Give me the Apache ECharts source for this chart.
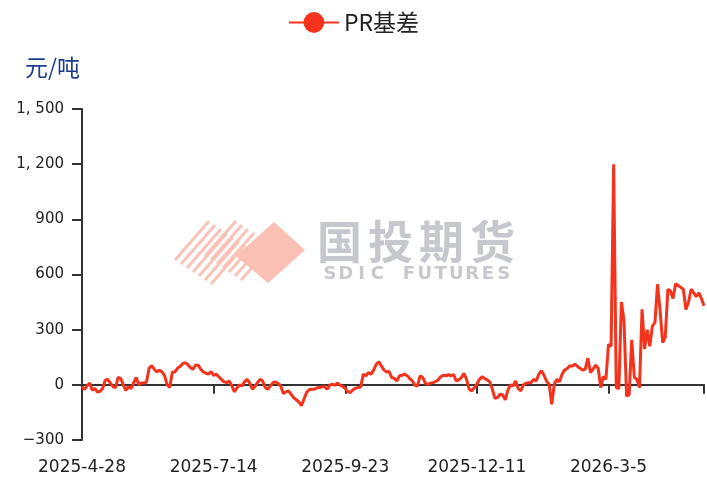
<!DOCTYPE html>
<html>
<head>
<meta charset="utf-8">
<script src="https://cdn.jsdelivr.net/npm/echarts@6/dist/echarts.min.js"></script>
<style>
html,body{margin:0;padding:0;background:#fff;}
#c{width:707px;height:479px;}
</style>
</head>
<body>
<div id="c"></div>
<script>
const dates = [
"2025-4-28","2025-4-29","2025-4-30",
"2025-5-6","2025-5-7","2025-5-8","2025-5-9","2025-5-12","2025-5-13","2025-5-14","2025-5-15","2025-5-16","2025-5-19","2025-5-20","2025-5-21","2025-5-22","2025-5-23","2025-5-26","2025-5-27","2025-5-28","2025-5-29","2025-5-30",
"2025-6-3","2025-6-4","2025-6-5","2025-6-6","2025-6-9","2025-6-10","2025-6-11","2025-6-12","2025-6-13","2025-6-16","2025-6-17","2025-6-18","2025-6-19","2025-6-20","2025-6-23","2025-6-24","2025-6-25","2025-6-26","2025-6-27","2025-6-30",
"2025-7-1","2025-7-2","2025-7-3","2025-7-4","2025-7-7","2025-7-8","2025-7-9","2025-7-10","2025-7-11","2025-7-14","2025-7-15","2025-7-16","2025-7-17","2025-7-18","2025-7-21","2025-7-22","2025-7-23","2025-7-24","2025-7-25","2025-7-28","2025-7-29","2025-7-30","2025-7-31",
"2025-8-1","2025-8-4","2025-8-5","2025-8-6","2025-8-7","2025-8-8","2025-8-11","2025-8-12","2025-8-13","2025-8-14","2025-8-15","2025-8-18","2025-8-19","2025-8-20","2025-8-21","2025-8-22","2025-8-25","2025-8-26","2025-8-27","2025-8-28","2025-8-29",
"2025-9-1","2025-9-2","2025-9-3","2025-9-4","2025-9-5","2025-9-8","2025-9-9","2025-9-10","2025-9-11","2025-9-12","2025-9-15","2025-9-16","2025-9-17","2025-9-18","2025-9-19","2025-9-22","2025-9-23","2025-9-24","2025-9-25","2025-9-26","2025-9-29","2025-9-30",
"2025-10-9","2025-10-10","2025-10-13","2025-10-14","2025-10-15","2025-10-16","2025-10-17","2025-10-20","2025-10-21","2025-10-22","2025-10-23","2025-10-24","2025-10-27","2025-10-28","2025-10-29","2025-10-30","2025-10-31",
"2025-11-3","2025-11-4","2025-11-5","2025-11-6","2025-11-7","2025-11-10","2025-11-11","2025-11-12","2025-11-13","2025-11-14","2025-11-17","2025-11-18","2025-11-19","2025-11-20","2025-11-21","2025-11-24","2025-11-25","2025-11-26","2025-11-27","2025-11-28",
"2025-12-1","2025-12-2","2025-12-3","2025-12-4","2025-12-5","2025-12-8","2025-12-9","2025-12-10","2025-12-11","2025-12-12","2025-12-15","2025-12-16","2025-12-17","2025-12-18","2025-12-19","2025-12-22","2025-12-23","2025-12-24","2025-12-25","2025-12-26","2025-12-29","2025-12-30","2025-12-31",
"2026-1-5","2026-1-6","2026-1-7","2026-1-8","2026-1-9","2026-1-12","2026-1-13","2026-1-14","2026-1-15","2026-1-16","2026-1-19","2026-1-20","2026-1-21","2026-1-22","2026-1-23","2026-1-26","2026-1-27","2026-1-28","2026-1-29","2026-1-30",
"2026-2-2","2026-2-3","2026-2-4","2026-2-5","2026-2-6","2026-2-9","2026-2-10","2026-2-11","2026-2-12","2026-2-24","2026-2-25","2026-2-26","2026-2-27",
"2026-3-2","2026-3-3","2026-3-4","2026-3-5","2026-3-6","2026-3-9","2026-3-10","2026-3-11","2026-3-12","2026-3-13","2026-3-16","2026-3-17","2026-3-18","2026-3-19","2026-3-20","2026-3-23","2026-3-24","2026-3-25","2026-3-26","2026-3-27","2026-3-30","2026-3-31",
"2026-4-1","2026-4-2","2026-4-3","2026-4-7","2026-4-8","2026-4-9","2026-4-10","2026-4-13","2026-4-14","2026-4-15","2026-4-16","2026-4-17","2026-4-20","2026-4-21","2026-4-22","2026-4-23","2026-4-24","2026-4-27","2026-4-28"
];

const prBasis = [
-10,-25,-5,10,-30,-20,-40,-35,-20,25,
30,10,-10,-15,40,35,0,-30,-10,-20,
10,40,0,10,10,15,90,105,85,70,
80,70,50,0,-15,70,70,90,100,115,
120,110,94,85,107,107,85,70,63,58,
72,52,58,44,30,16,12,21,-2,-38,
-18,0,-6,18,30,9,-24,-9,12,30,
21,-15,-24,-6,12,16,7,-6,-47,-38,
-33,-51,-70,-81,-92,-114,-78,-42,-27,-24,
-24,-17,-15,-11,-11,-24,-2,3,-2,9,
-2,-9,-20,-38,-42,-27,-18,-15,-11,58,
49,67,58,80,112,125,103,80,70,72,
40,35,21,49,52,58,49,34,21,-2,
-6,49,40,9,3,9,12,18,27,44,
52,49,56,49,56,21,27,40,63,30,
-24,-33,-15,3,30,44,34,27,16,-24,
-74,-69,-51,-55,-81,-30,0,-6,21,-20,
-33,-2,9,12,12,30,21,58,76,52,
20,3,-106,3,30,16,58,80,89,103,
103,112,100,90,80,85,145,67,85,107,
90,-15,45,30,220,210,1200,-15,-20,450,
350,-60,-55,245,40,30,-15,411,194,300,
210,320,340,547,400,230,260,520,510,470,
550,540,530,520,410,450,520,500,480,500,
470,430
];

const yTickValues = [-300, 0, 300, 600, 900, 1200, 1500];
const seriesName = "PR基差";
const unitName = "元/吨";
const labelStep = 51;
const wmTitle = "国投期货";
const wmSub = "SDIC FUTURES";

function fmtY(v) {
  const a = Math.abs(v);
  let s = String(a);
  if (a >= 1000) s = Math.floor(a / 1000) + ", " + String(a % 1000).padStart(3, "0");
  return (v < 0 ? "\u2212" : "") + s;
}

// watermark (decoration)
const wm = [];
const stripeColor = "#f8c3b8";
for (let k = 0; k < 7; k++) {
  const x0 = 175 + k * 6, y0 = 260 + k * 4;
  wm.push({type: "line", silent: true, z: -10,
    shape: {x1: x0, y1: y0, x2: x0 + 34, y2: y0 - 39},
    style: {stroke: stripeColor, lineWidth: 3}});
}
for (let k = 0; k < 7; k++) {
  const x0 = 205 + k * 6, y0 = 256 + k * 4;
  wm.push({type: "line", silent: true, z: -10,
    shape: {x1: x0, y1: y0, x2: x0 + 31, y2: y0 - 35},
    style: {stroke: stripeColor, lineWidth: 3}});
}
wm.push({type: "polygon", silent: true, z: -10,
  shape: {points: [[274, 222], [305, 250], [268, 283], [236, 256]]},
  style: {fill: "#f9c0b3"}});
Array.from(wmTitle).forEach(function (ch, i) {
  wm.push({type: "text", silent: true, z: -10, left: 317 + i * 51, top: 219,
    style: {text: ch, fontSize: 45, fontWeight: "bold", fill: "#c6c8ce", fontFamily: "Noto Sans CJK SC"}});
});
Array.from(wmSub).forEach(function (ch, i) {
  wm.push({type: "text", silent: true, z: -10, x: 330 + i * 15.8, y: 274,
    style: {text: ch, fontSize: 18, fontWeight: "bold", fill: "#c6c8ce", fontFamily: "DejaVu Sans", align: "center", verticalAlign: "middle"}});
});

const chart = echarts.init(document.getElementById("c"), null, {renderer: "canvas"});
chart.setOption({
  animation: false,
  backgroundColor: "#ffffff",
  title: {
    text: unitName, left: 20, top: 51,
    textStyle: {fontSize: 23, fontWeight: "normal", color: "#1d3c8e", fontFamily: "Noto Sans CJK SC"}
  },
  legend: {
    top: 6, left: "center",
    itemWidth: 50, itemHeight: 26, itemGap: 10,
    textStyle: {fontSize: 23, color: "#222", fontFamily: "Noto Sans CJK SC"},
    data: [seriesName]
  },
  graphic: wm,
  grid: {left: 82, right: 3, top: 109, bottom: 39},
  xAxis: [
    {
      type: "category", data: dates, boundaryGap: false,
      axisLine: {onZero: true, lineStyle: {color: "#333", width: 2}},
      axisTick: {show: true, length: 9, lineStyle: {color: "#333", width: 2},
        interval: function (i) { return i % labelStep === 0 || i === dates.length - 1; }},
      axisLabel: {show: false, interval: labelStep - 1},
      splitLine: {show: false}
    },
    {
      type: "category", data: dates, boundaryGap: false, position: "bottom",
      axisLine: {show: false, onZero: false},
      axisTick: {show: false},
      axisLabel: {show: true, interval: labelStep - 1, margin: 19, fontSize: 17, color: "#222", fontFamily: "DejaVu Sans"},
      splitLine: {show: false}
    }
  ],
  yAxis: {
    type: "value",
    min: yTickValues[0], max: yTickValues[yTickValues.length - 1], interval: 300,
    axisLine: {show: true, lineStyle: {color: "#333", width: 2}},
    axisTick: {show: true, length: 10, lineStyle: {color: "#333", width: 2}},
    axisLabel: {fontSize: 15, color: "#222", margin: 18, fontFamily: "DejaVu Sans", formatter: fmtY},
    splitLine: {show: false}
  },
  series: [{
    name: seriesName, type: "line", xAxisIndex: 0,
    data: prBasis,
    showSymbol: false, symbol: "circle", symbolSize: 10,
    lineStyle: {width: 3, color: "#f5321c"},
    itemStyle: {color: "#f5321c"}
  }]
});
</script>
</body>
</html>
